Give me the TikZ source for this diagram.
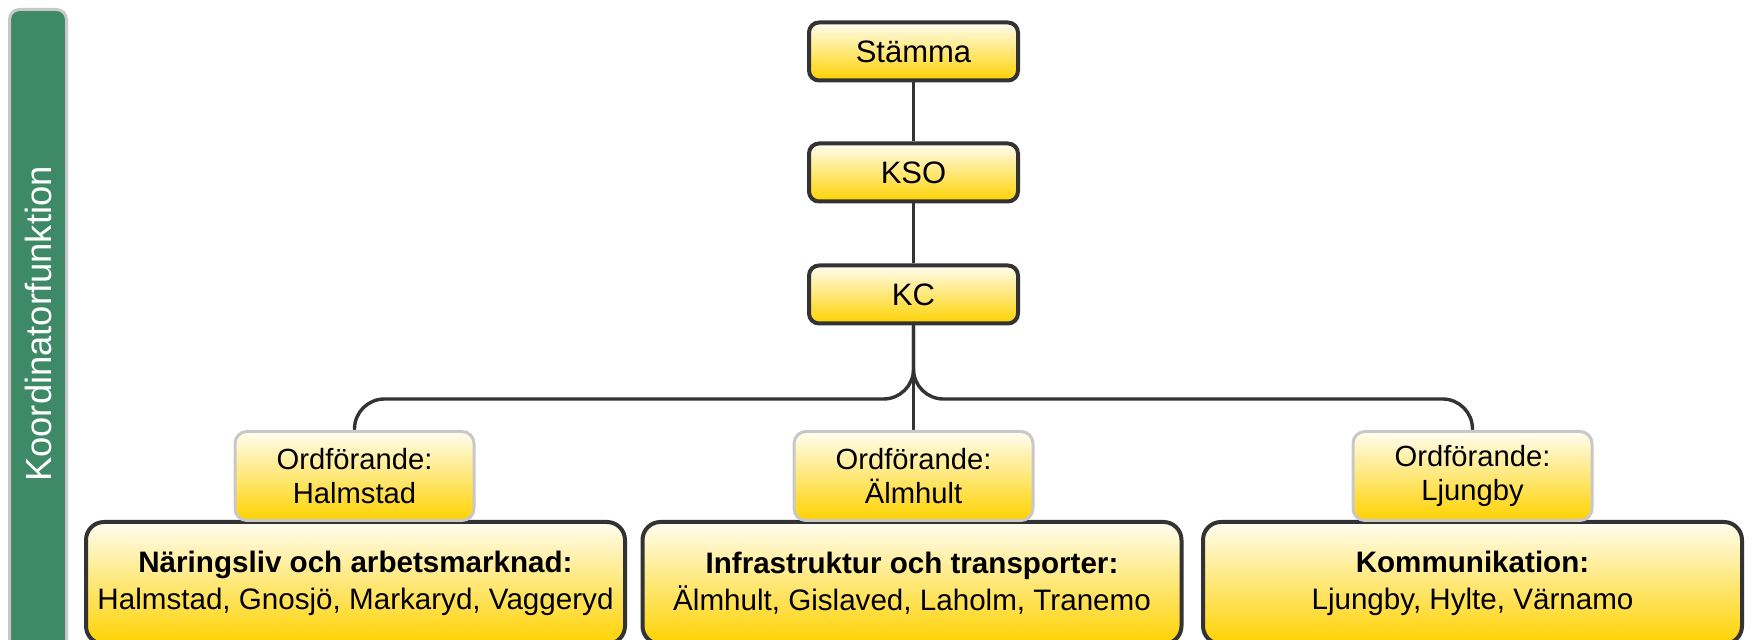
\documentclass[tikz,border=0pt]{standalone}
\usepackage{fontspec}
\setmainfont{Liberation Sans}
\definecolor{dk}{RGB}{51,51,51}
\definecolor{lg}{RGB}{200,200,200}
\definecolor{grn}{RGB}{62,138,103}
\definecolor{ytop}{RGB}{255,253,240}
\definecolor{ymid}{RGB}{255,238,160}
\definecolor{ybot}{RGB}{255,210,0}
\tikzset{
  gold/.style={top color=ytop, middle color=ymid, bottom color=ybot},
  topbox/.style={gold, draw=dk, line width=2pt, rounded corners=5pt,
    minimum width=104.5pt, minimum height=29pt, inner sep=0pt,
    font=\fontsize{15.5}{18}\selectfont},
  chairbox/.style={gold, draw=lg, line width=1.5pt, rounded corners=6pt,
    minimum width=119.5pt, minimum height=44.5pt, inner sep=0pt, align=center,
    font=\fontsize{14.6}{17}\selectfont},
  groupbox/.style={gold, draw=dk, line width=2pt, rounded corners=9pt,
    minimum width=269.5pt, minimum height=61pt, inner sep=0pt, align=center,
    font=\fontsize{14.8}{18.5}\selectfont},
  conn/.style={draw=dk, line width=1.7pt, rounded corners=15pt},
}
\begin{document}
\begin{tikzpicture}[x=0.5pt,y=-0.5pt]
\useasboundingbox (0,0) rectangle (1753,640);
\begin{scope}
\clip (0,0) rectangle (1753,640);
% side bar
\draw[draw=lg, line width=1.5pt, fill=grn, rounded corners=5pt] (9.5,9.5) rectangle (66.5,680);
\node[rotate=90, text=white, font=\fontsize{18.2}{20}\selectfont] (side) at (38,324) {Koordinatorfunktion};
% top nodes
\node[topbox] (st) at (913.5,51.5) {Stämma};
\node[topbox] (kso) at (913.5,172.5) {KSO};
\node[topbox] (kc) at (913.5,294.5) {KC};
\coordinate (bus) at (913.5,399);
% connectors
\draw[conn] (st.south) -- (kso.north);
\draw[conn] (kso.south) -- (kc.north);
\draw[conn] (kc.south) -- (bus) -| (354.5,440);
\draw[conn] (kc.south) -- (bus) -| (1472.5,440);
\draw[conn] (kc.south) -- (913.5,440);
% group boxes
\node[groupbox] (g1) at (355.5,583) {\textbf{Näringsliv och arbetsmarknad:}\\Halmstad, Gnosjö, Markaryd, Vaggeryd};
\node[groupbox] (g2) at (912,583) {\textbf{Infrastruktur och transporter:}\\Älmhult, Gislaved, Laholm, Tranemo};
\node[groupbox] (g3) at (1472.5,583) {\textbf{Kommunikation:}\\Ljungby, Hylte, Värnamo};
% chair boxes
\node[chairbox] (o1) at (354.5,476) {Ordförande:\\Halmstad};
\node[chairbox] (o2) at (913.5,476) {Ordförande:\\Älmhult};
\node[chairbox] (o3) at (1472.5,476) {Ordförande:\\Ljungby};
\end{scope}
\end{tikzpicture}
\end{document}
